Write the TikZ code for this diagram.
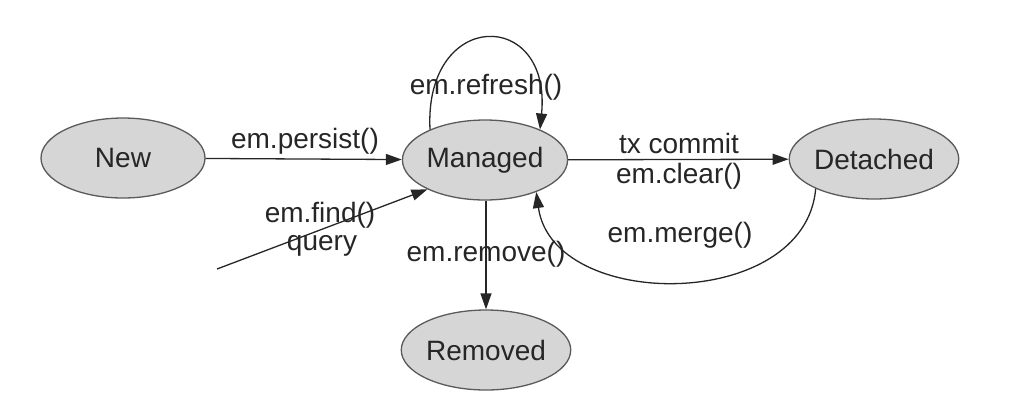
\documentclass[tikz,border=0pt]{standalone}
\usepackage{fontspec}
\setmainfont{Liberation Sans}
\usetikzlibrary{shapes.geometric,arrows.meta}
\definecolor{stfill}{HTML}{D6D6D6}
\definecolor{stborder}{HTML}{5A5A5A}
\definecolor{ink}{HTML}{262626}
\tikzset{
  state/.style={ellipse, draw=stborder, line width=1.3pt, fill=stfill,
    minimum width=164pt, minimum height=80pt, inner sep=0pt,
    font=\fontsize{28}{32}\selectfont, text=ink},
  trans/.style={draw=ink, line width=1.3pt, -{Triangle[length=16pt,width=11pt]}},
  lbl/.style={font=\fontsize{28}{32}\selectfont, text=ink, inner sep=0pt}
}
\begin{document}
\begin{tikzpicture}[x=1pt,y=-1pt]
\useasboundingbox (0,0) rectangle (1016,416);
\node[state] (N) at (123,158) {New};
\node[state] (M) at (485,160) {Managed};
\node[state] (D) at (874,159) {Detached};
\node[state] (R) at (486,350) {Removed};
\coordinate (Q) at (217,269);

\draw[trans] (N) -- (M);
\draw[trans] (M.151) .. controls (424,8) and (552,8) .. (M.29);
\draw[trans] (Q) -- (M.207);
\draw[trans] (M) -- (D);
\draw[trans] (D.207) .. controls (805,312) and (553,312) .. (M.328);
\draw[trans] (M.south -| R.north) -- (R.north);

\node[lbl] (lp) at (305,141) {em.persist()};
\node[lbl] (lr) at (486,87) {em.refresh()};
\node[lbl] (lf) at (320,215) {em.find()};
\node[lbl] (lq) at (322,246) {query};
\node[lbl] (lt) at (679,143) {tx commit};
\node[lbl] (lc) at (679,176) {em.clear()};
\node[lbl] (lm) at (680,235) {em.merge()};
\node[lbl] (lv) at (486,254) {em.remove()};
\end{tikzpicture}
\end{document}
